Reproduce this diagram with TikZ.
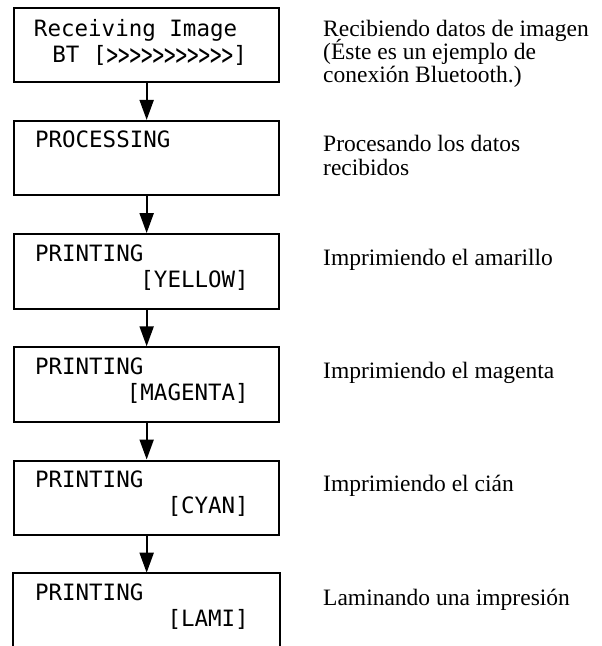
\documentclass[tikz,border=0pt]{standalone}
\usepackage{fontspec}
\usepackage{graphicx}
\setmainfont{Liberation Serif}
\newfontfamily\lcdfont{DejaVu Sans Mono}
\usetikzlibrary{arrows.meta,calc}
\begin{document}
\begin{tikzpicture}[x=1pt,y=-1pt,
  lcdbox/.style={draw, line width=2pt, minimum width=264.7pt, minimum height=74.5pt, anchor=north west, inner sep=0pt},
  lcdtext/.style={font=\lcdfont\fontsize{22.5}{27}\selectfont, inner sep=0pt},
  desc/.style={font=\fontsize{23.5}{23}\selectfont, anchor=base west, inner sep=0pt},
  flow/.style={line width=2pt, -{Triangle[length=20pt,width=14pt]}}]
\useasboundingbox (0,0) rectangle (602,646);
% boxes
\node[lcdbox] (b1) at (13.3,6.7) {};
\node[lcdbox] (b2) at (13.3,119.9) {};
\node[lcdbox] (b3) at (13.3,233.1) {};
\node[lcdbox] (b4) at (13.3,346.3) {};
\node[lcdbox] (b5) at (13.3,459.5) {};
\node[lcdbox, draw=none] (b6) at (13.3,572.7) {};
\draw[line width=2pt] (b6.south west) -- (b6.north west) -- (b6.north east) -- (b6.south east);
% box texts
\node[lcdtext, anchor=base west] (t1a) at ($(b1.north west)+(20.5,29.3)$) {Receiving Image};
\node[lcdtext, anchor=base east] (t1b) at ($(b1.north east)+(-33,56)$) {BT [\raisebox{-0.11em}{\scalebox{0.85}[1.35]{>>>>>>>>>>>}}]};
\node[lcdtext, anchor=base west] (t2a) at ($(b2.north west)+(21.5,27.5)$) {PROCESSING};
\node[lcdtext, anchor=base west] (t3a) at ($(b3.north west)+(21.5,28)$) {PRINTING};
\node[lcdtext, anchor=base east] (t3b) at ($(b3.north east)+(-31,54)$) {[YELLOW]};
\node[lcdtext, anchor=base west] (t4a) at ($(b4.north west)+(21.5,28)$) {PRINTING};
\node[lcdtext, anchor=base east] (t4b) at ($(b4.north east)+(-31,54)$) {[MAGENTA]};
\node[lcdtext, anchor=base west] (t5a) at ($(b5.north west)+(21.5,28)$) {PRINTING};
\node[lcdtext, anchor=base east] (t5b) at ($(b5.north east)+(-31,54)$) {[CYAN]};
\node[lcdtext, anchor=base west] (t6a) at ($(b6.north west)+(21.5,28)$) {PRINTING};
\node[lcdtext, anchor=base east] (t6b) at ($(b6.north east)+(-31,54)$) {[LAMI]};
% arrows
\draw[flow] (b1.south) -- (b2.north);
\draw[flow] (b2.south) -- (b3.north);
\draw[flow] (b3.south) -- (b4.north);
\draw[flow] (b4.south) -- (b5.north);
\draw[flow] (b5.south) -- (b6.north);
% descriptions
\node[desc] (d1a) at (323,36.7) {Recibiendo datos de imagen};
\node[desc] (d1b) at (323,59.5) {(Éste es un ejemplo de};
\node[desc] (d1c) at (323,82.3) {conexión Bluetooth.)};
\node[desc] (d2a) at (323,151.7) {Procesando los datos};
\node[desc] (d2b) at (323,175) {recibidos};
\node[desc] (d3) at (323,265.4) {Imprimiendo el amarillo};
\node[desc] (d4) at (323,378.6) {Imprimiendo el magenta};
\node[desc] (d5) at (323,491.8) {Imprimiendo el cián};
\node[desc] (d6) at (323,605) {Laminando una impresión};
\end{tikzpicture}
\end{document}
